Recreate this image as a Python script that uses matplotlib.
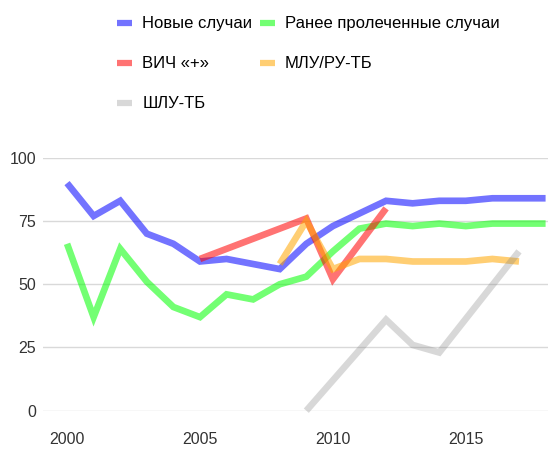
import matplotlib
matplotlib.use("Agg")
import matplotlib.pyplot as plt
from matplotlib.lines import Line2D

plt.rcParams['font.family'] = ['Liberation Sans', 'DejaVu Sans']

# years and values
years_new = list(range(2000, 2019))
new_cases = [90, 77, 83, 70, 66, 59, 60, 58, 56, 66, 73, 78, 83, 82, 83, 83, 84, 84, 84]

years_prev = list(range(2000, 2019))
prev_treated = [66, 37, 64, 51, 41, 37, 46, 44, 50, 53, 63, 72, 74, 73, 74, 73, 74, 74, 74]

years_hiv = [2005, 2009, 2010, 2012]
hiv = [60, 76, 52, 80]

years_mdr = [2008, 2009, 2010, 2011, 2012, 2013, 2014, 2015, 2016, 2017]
mdr = [58, 75, 56, 60, 60, 59, 59, 59, 60, 59]

years_xdr = [2009, 2012, 2013, 2014, 2017]
xdr = [0, 36, 26, 23, 63]

labels = ["Новые случаи", "Ранее пролеченные случаи", "ВИЧ «+»", "МЛУ/РУ-ТБ", "ШЛУ-ТБ"]
colors = [(0, 0, 1, 0.55), (0, 1, 0, 0.55), (1, 0, 0, 0.55), (1, 0.65, 0, 0.55), (0.5, 0.5, 0.5, 0.3)]

fig = plt.figure(figsize=(5.6, 4.54), dpi=100)
ax = fig.add_axes([0.077, 0.0954, 0.902, 0.557])

series = [(years_new, new_cases), (years_prev, prev_treated), (years_hiv, hiv),
          (years_mdr, mdr), (years_xdr, xdr)]
handles = []
for (x, y), c, lab in zip(series, colors, labels):
    ax.plot(x, y, color=c, lw=4.8, solid_capstyle='butt', solid_joinstyle='miter', clip_on=False)
    handles.append(Line2D([], [], color=c, lw=4.5, solid_capstyle='butt'))

ax.set_xlim(1999.1, 2018.1)
ax.set_ylim(0, 100)
ax.set_yticks([0, 25, 50, 75, 100])
ax.set_xticks([2000, 2005, 2010, 2015])
ax.grid(axis='y', color='#d9d9d9', lw=1)
ax.set_axisbelow(True)
for s in ax.spines.values():
    s.set_visible(False)
ax.tick_params(length=0, labelsize=11.5, colors='#333333')
ax.tick_params(axis='x', pad=15)
ax.tick_params(axis='y', pad=5)

order = [0, 2, 4, 1, 3]
fig.legend([handles[i] for i in order], [labels[i] for i in order],
           ncol=2, loc='upper left', bbox_to_anchor=(0.183, 0.997), frameon=False,
           fontsize=12, handlelength=0.9, handletextpad=0.6, columnspacing=0.45,
           labelspacing=1.5)

fig.savefig("out.png", dpi=100)
